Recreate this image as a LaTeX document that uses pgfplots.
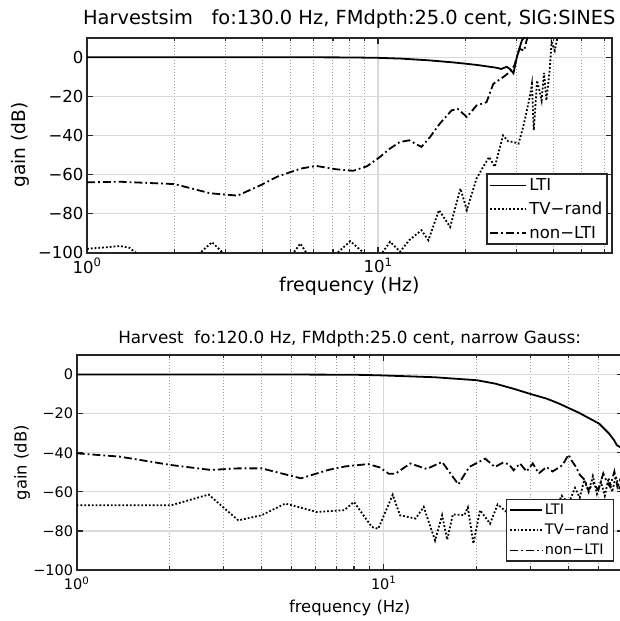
\documentclass[border=0pt]{standalone}
\usepackage{fontspec}
\setmainfont{DejaVu Sans}
\usepackage{pgfplots}
\pgfplotsset{compat=1.18}
\tikzset{
  ltis/.style={black, line width=1.8pt, solid},
  tvs/.style={black, line width=1.8pt, dash pattern=on 1.8pt off 2pt},
  nls/.style={black, line width=1.8pt, dash pattern=on 8pt off 3pt on 1.8pt off 3pt},
}
\begin{document}
\begin{tikzpicture}
\useasboundingbox (0pt,0pt) rectangle (619pt,621pt);
% ---------------- top axis ----------------
\begin{semilogxaxis}[scale only axis, xmin=1, ymin=-100, ymax=10,
  ytick={-100,-80,-60,-40,-20,0},
  yticklabels={−100,−80,−60,−40,−20,0},
  xtick={1,10}, xticklabels={10\textsuperscript{0},10\textsuperscript{1}},
  minor xtick={2,3,4,5,6,7,8,9,20,30,40,50,60},
  xmajorgrids, ymajorgrids, xminorgrids,
  major grid style={black!15, line width=1.3pt},
  minor grid style={black!40, line width=0.9pt, dash pattern=on 1pt off 2pt},
  tick align=inside, major tick length=6pt, minor tick length=3.5pt,
  tick style={black!85, line width=1.2pt},
  axis line style={black!85, line width=1.8pt},
  legend cell align=left,
  every axis title shift=0pt,
  at={(87pt,368.3pt)}, anchor=south west,
  width=524.6pt, height=215pt, xmax=63.5,
  tick label style={font=\fontsize{16.5}{19}\selectfont},
  xticklabel style={yshift=-2pt},
  title={Harvestsim\ \ \ fo:130.0 Hz, FMdpth:25.0 cent, SIG:SINES},
  title style={font=\fontsize{19.4}{23}\selectfont, at={(0.5,1)}, anchor=base, yshift=12.7pt},
  xlabel={frequency (Hz)}, ylabel={gain (dB)},
  xlabel style={font=\fontsize{19}{23}\selectfont, at={(0.5,0)}, anchor=center, yshift=-34pt},
  ylabel style={font=\fontsize{18.6}{22}\selectfont, at={(0,0.5)}, anchor=center, yshift=67pt},
  legend style={at={(0.9924,0.0358)}, anchor=south east, draw=black!85, line width=1.5pt,
    fill=white, font=\fontsize{16.5}{19}\selectfont, inner sep=2.5pt, row sep=6pt},
  legend image code/.code={\draw[#1, line width=1.8pt] (0pt,0pt) -- (36pt,0pt);},
]
\addplot[ltis] table {
1 0
2 0
5 0
8 -0.1
10 -0.3
12 -0.7
15 -1.6
18 -2.6
20 -3.3
22 -4.0
24 -4.8
25.6 -5.4
26.5 -6.0
27.7 -4.9
28.5 -6.2
29.2 -8.2
30.0 0
31.2 8.5
32.4 12
};
\addlegendentry{LTI}
\addplot[tvs] table {
1 -98
1.15 -97.3
1.30 -96.6
1.4 -97.5
1.5 -101
1.8 -106
2.2 -104
2.45 -100
2.69 -94.6
2.95 -100.5
3.5 -106
4.5 -104
5.1 -100.5
5.41 -95.3
5.7 -100.5
6.5 -104
7.2 -100.5
8.03 -94.1
9.0 -100.5
9.5 -103
10.3 -100.5
11.0 -94.4
11.9 -99.5
12.8 -93.6
14.1 -88.5
14.9 -93.6
16.2 -78.2
17.7 -86.8
19.2 -67.2
20.2 -78.2
21.8 -62.1
23.0 -56
24.1 -51
25.2 -56.1
26.9 -40
28.0 -43
29.2 -43.4
30.4 -44.2
31.5 -36
32.3 -28.9
33.2 -20.5
33.8 -13.6
34.3 -37.4
35.2 -11.9
36.0 -18
36.5 -22.1
37.2 -8
37.9 -22.1
38.9 -6.8
39.5 7.7
40.5 3.4
41.6 11.9
};
\addlegendentry{TV−rand}
\addplot[nls] table {
1 -64
1.3 -63.7
2.0 -64.9
2.65 -69.6
3.29 -70.8
3.96 -65.4
4.49 -61.2
5.41 -57
6.13 -55.6
7.16 -57.3
8.22 -58.1
9.16 -55.8
10.16 -51
10.97 -46.8
11.87 -43.4
12.8 -42.5
14.1 -45.9
15.1 -40.8
16.3 -34
17.9 -27.2
18.8 -26.4
20.2 -30.6
21.8 -24.7
23.6 -23
24.9 -13.6
26.9 -10.2
28.3 -7.7
29.4 -4.3
30.6 4.3
31.8 3.4
32.6 10.2
33 14
};
\addlegendentry{non−LTI}
\end{semilogxaxis}
% ---------------- bottom axis ----------------
\begin{semilogxaxis}[scale only axis, xmin=1, ymin=-100, ymax=10,
  ytick={-100,-80,-60,-40,-20,0},
  yticklabels={−100,−80,−60,−40,−20,0},
  xtick={1,10}, xticklabels={10\textsuperscript{0},10\textsuperscript{1}},
  minor xtick={2,3,4,5,6,7,8,9,20,30,40,50,60},
  xmajorgrids, ymajorgrids, xminorgrids,
  major grid style={black!15, line width=1.3pt},
  minor grid style={black!40, line width=0.9pt, dash pattern=on 1pt off 2pt},
  tick align=inside, major tick length=6pt, minor tick length=3.5pt,
  tick style={black!85, line width=1.2pt},
  axis line style={black!85, line width=1.8pt},
  legend cell align=left,
  every axis title shift=0pt,
  at={(76.7pt,51pt)}, anchor=south west,
  width=545.9pt, height=215pt, xmax=60,
  tick label style={font=\fontsize{14.5}{17}\selectfont},
  xticklabel style={yshift=-3pt},
  title={Harvest\ \ fo:120.0 Hz, FMdpth:25.0 cent, narrow Gauss:},
  title style={font=\fontsize{16.8}{20}\selectfont, at={(0.5,1)}, anchor=base, yshift=11pt},
  xlabel={frequency (Hz)}, ylabel={gain (dB)},
  xlabel style={font=\fontsize{16.4}{20}\selectfont, at={(0.5,0)}, anchor=center, yshift=-38pt},
  ylabel style={font=\fontsize{16.4}{20}\selectfont, at={(0,0.5)}, anchor=center, yshift=54.7pt},
  legend style={at={(0.9848,0.0386)}, anchor=south east, draw=black!85, line width=1.5pt,
    fill=white, font=\fontsize{14.5}{17}\selectfont, inner sep=2.5pt, row sep=4pt},
  legend image code/.code={\draw[#1, line width=1.8pt] (0pt,0pt) -- (32pt,0pt);},
]
\addplot[ltis] table {
1 0
5 0
8 -0.1
9.7 -0.4
12 -0.9
14.7 -1.4
17 -2.1
20.1 -2.9
23 -4.6
26.4 -7.2
30 -9.9
33.9 -12.3
37.2 -14.8
43.3 -19.6
50.3 -25.1
54.2 -30.2
56.3 -33.6
57.5 -36.2
58.6 -36.9
60 -38
};
\addlegendentry{LTI}
\addplot[tvs] table {
1 -66.9
2.03 -66.9
2.69 -61.4
3.36 -74.6
4.0 -72
4.78 -66
6.06 -70.3
7.44 -69.4
8.0 -65.2
9.15 -78
9.6 -78.9
10.7 -61.5
11.3 -72
12.7 -73.7
13.5 -67.7
14.7 -84.9
15.5 -72
16.1 -84.5
16.8 -71.5
18.3 -72
18.8 -68
19.6 -86.5
20.6 -69.4
22.2 -76.3
23.5 -66.5
25 -70
26.5 -64
28 -72
30 -66
32 -74
34 -65
36 -70
38 -62
40 -66
42 -58
43.5 -63
45 -54
46.5 -60
48 -52
49.5 -61
51 -55
52.5 -62
54 -53
55.5 -60
57 -52
58.5 -58
60 -55
};
\addlegendentry{TV−rand}
\addplot[nls] table {
1 -40.3
1.38 -42
2.03 -46.3
2.73 -48.8
3.36 -48
4.0 -48
5.38 -53.1
6.6 -48.8
7.5 -47
8.9 -45.8
9.7 -47.5
10.4 -50.8
10.9 -50.8
12.2 -45.5
13.8 -48.3
15.5 -44.7
17.5 -56.2
19.0 -47.3
21.4 -43
23.0 -47.3
24.5 -45
25.6 -46
26.5 -49
27.8 -45.5
29.2 -49.6
30.6 -45.5
32.0 -50.6
33.9 -47.3
35.5 -49.6
38.2 -46.4
40.0 -41
40.9 -43.9
42.3 -47.3
43.6 -51.5
45.2 -54
46.4 -59.1
48.2 -55.7
50 -59.1
51.9 -50.6
53 -54
54.6 -57.4
56.4 -49.6
57.7 -57.4
58.8 -54
60 -56
};
\addlegendentry{non−LTI}
\end{semilogxaxis}
\end{tikzpicture}
\end{document}
